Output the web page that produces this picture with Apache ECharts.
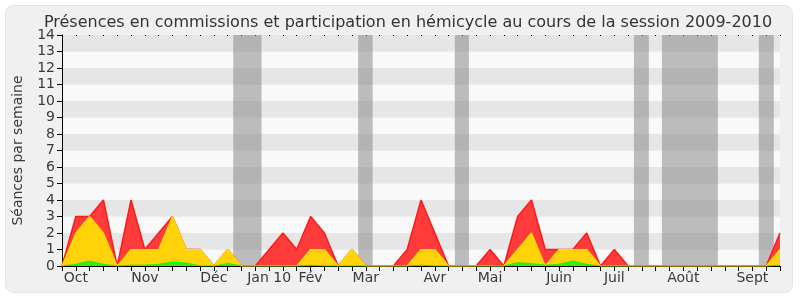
<!DOCTYPE html>
<html>
<head>
<meta charset="utf-8">
<script src="https://cdn.jsdelivr.net/npm/echarts@6/dist/echarts.min.js"></script>
<style>
html,body{margin:0;padding:0;background:#ffffff;}
#c{width:800px;height:300px;}
</style>
</head>
<body>
<div id="c"></div>
<script>
// Weekly values (week index 0..52)
const hemicycle = [0,3,3,4,0,4,1,2,3,1,1,0,1,0,0,1,2,1,3,2,0,1,0,0,0,1,4,2,0,0,0,1,0,3,4,1,1,1,2,0,1,0,0,0,0,0,0,0,0,0,0,0,2];
const interventions = [0,2,3,2,0,1,1,1,3,1,1,0,1,0,0,0,0,0,1,1,0,1,0,0,0,0,1,1,0,0,0,0,0,1,2,0,1,1,1,0,0,0,0,0,0,0,0,0,0,0,0,0,1];
const commissions = [0,0.1,0.3,0.1,0,0.05,0.05,0.1,0.25,0.18,0,0,0.15,0,0,0,0,0,0.05,0,0,0,0,0,0,0,0.05,0,0,0,0,0,0,0.2,0.15,0.05,0.1,0.3,0.1,0,0,0,0,0,0,0,0,0,0,0,0,0,0.05];
// Month tick labels (week position -> label)
const monthWeeks = [1,6,11,15,18,22,27,31,36,40,45,50];
const monthNames = ['Oct','Nov','Déc','Jan 10','Fév','Mar','Avr','Mai','Juin','Juil','Août','Sept'];
// Holiday periods (in week units)
const holidays = [[12.4,14.45],[21.45,22.5],[28.45,29.47],[41.42,42.5],[43.45,47.5],[50.47,51.55]];
const yTicks = [0,1,2,3,4,5,6,7,8,9,10,11,12,13,14];

const toPairs = arr => arr.map((v,i)=>[i,v]);
const font = 'DejaVu Sans';
const chart = echarts.init(document.getElementById('c'), null, {renderer:'canvas'});
chart.setOption({
  animation:false,
  backgroundColor:'#ffffff',
  graphic:[{type:'rect', z:-10, shape:{x:5.5,y:5.5,width:787,height:287,r:8}, style:{fill:'#f0f0f0', stroke:'#e4e4e4', lineWidth:1}}],
  title:{text:'Présences en commissions et participation en hémicycle au cours de la session 2009-2010',
    left:403, textAlign:'center', top:10,
    textStyle:{fontFamily:font,fontSize:16,fontWeight:'normal',color:'#333333'}},
  grid:{left:62,right:20,top:35,bottom:34},
  xAxis:[{
    type:'value', min:0, max:52, interval:1,
    axisLine:{show:true,lineStyle:{color:'#000',width:1}},
    axisTick:{show:true,length:5,lineStyle:{color:'#000'}},
    splitLine:{show:false},
    axisLabel:{show:true, margin:5, fontFamily:font, fontSize:14, color:'#3a3a3a',
      formatter:v=>{const k=monthWeeks.indexOf(Math.round(v)); return k>=0?monthNames[k]:'';}}
  },{
    type:'value', position:'top', min:0, max:52, interval:1,
    axisLine:{show:false},
    axisTick:{show:true,inside:true,length:1,lineStyle:{color:'#000'}},
    axisLabel:{show:false}, splitLine:{show:false}
  }],
  yAxis:{
    type:'value', min:0, max:14, interval:1,
    name:'Séances par semaine', nameLocation:'middle', nameGap:37, nameRotate:90,
    nameTextStyle:{fontFamily:font,fontSize:14,color:'#3a3a3a'},
    axisLine:{show:true,lineStyle:{color:'#000'}},
    axisTick:{show:true,length:5,lineStyle:{color:'#000'}},
    axisLabel:{fontFamily:font,fontSize:14,color:'#3a3a3a',margin:7,
      formatter:v=>yTicks.includes(v)?String(v):''},
    splitLine:{show:false},
    splitArea:{show:true, areaStyle:{color:['#f9f9f9','#e6e6e6']}}
  },
  series:[
    {type:'line', data:[], z:1, silent:true,
      markArea:{silent:true, itemStyle:{color:'rgba(128,128,128,0.5)'},
        data:holidays.map(h=>[{xAxis:h[0]},{xAxis:h[1]}])}},
    {type:'line', name:'hemicycle', data:toPairs(hemicycle), z:3, symbol:'none',
      lineStyle:{color:'#ff1a1a',width:1.5}, areaStyle:{color:'#ff3b3b',opacity:1}},
    {type:'line', name:'interventions', data:toPairs(interventions), z:4, symbol:'none',
      lineStyle:{color:'#ffdd00',width:1.2}, areaStyle:{color:'#ffd20a',opacity:1}},
    {type:'line', name:'commissions', data:toPairs(commissions), z:5, symbol:'none',
      lineStyle:{color:'#22ee00',width:1}, areaStyle:{color:'#33ee11',opacity:1}}
  ]
});
</script>
</body>
</html>
